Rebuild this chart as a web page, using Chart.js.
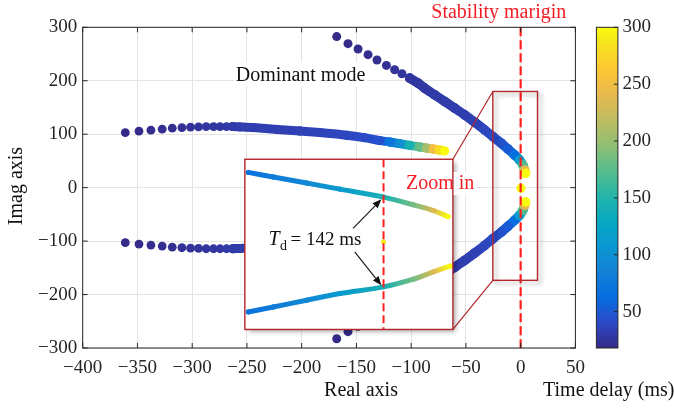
<!DOCTYPE html>
<html>
<head>
<meta charset="utf-8">
<script src="https://cdn.jsdelivr.net/npm/chart.js@4.4.1/dist/chart.umd.min.js"></script>
<style>
html,body{margin:0;padding:0;background:#ffffff;overflow:hidden;}
#wrap{position:relative;width:674px;height:409px;}
#wrap canvas{position:absolute;left:0;top:0;}
</style>
</head>
<body>
<div id="wrap">
<canvas id="mainCanvas" width="674" height="409"></canvas>
<canvas id="insetCanvas" width="674" height="409"></canvas>
</div>
<script>
// ---------------- data ----------------
const xTicks = [-400, -350, -300, -250, -200, -150, -100, -50, 0, 50];
const yTicks = [-300, -200, -100, 0, 100, 200, 300];
const cbTicks = [50, 100, 150, 200, 250, 300];
const cbMin = 18, cbMax = 300;

// Dominant mode, upper half (real, imag, time delay in ms)
const domUpRe = [-168.0,-157.7,-148.5,-139.4,-131.2,-122.6,-115.1,-108.4,-101.4,-93.8,-87.7,-78.6,-69.4,-60.3,-51.2,-42.1,-32.9,-25.4,-17.7,-11.7,-5.6,-1.0,2.0,3.6,4.5];
const domUpIm = [282.6,269.4,259.5,248.8,238.8,228.7,220.6,213.1,205.1,195.7,186.3,173.7,161.2,148.8,136.2,122.5,108.1,95.5,83.1,72.4,61.2,51.8,42.4,33.0,26.8];
// Dominant mode, lower half
const domLowRe = [-168.0,-157.7,-148.5,-139.4,-131.2,-122.6,-115.1,-108.4,-101.4,-93.8,-87.7,-78.6,-69.4,-60.3,-51.2,-42.1,-32.9,-25.4,-17.7,-11.7,-5.6,-1.0,2.0,3.6,4.5];
const domLowIm = [-282.6,-269.4,-259.5,-248.8,-238.8,-228.7,-220.6,-213.1,-205.1,-195.7,-186.3,-173.7,-161.2,-148.8,-136.2,-122.5,-108.1,-95.5,-83.1,-72.4,-61.2,-51.8,-42.4,-33.0,-26.8];
const domDelay = [18,19,20,21,22,23,24,25,26,27,28,29,30,31,32,34,37,41,45,52,65,115,170,240,300];
const domSparse = 9;

// Second mode, upper half
const secUpRe = [-361.1,-348.6,-337.7,-327.4,-318.2,-309.4,-301.5,-294.2,-287.2,-280.5,-274.5,-268.6,-263.1,-256.5,-244.3,-222.0,-201.7,-183.5,-159.1,-143.0,-128.7,-119.6,-110.5,-101.4,-92.2,-86.1,-80.1,-74.5,-69.4];
const secUpIm = [103.0,105.6,107.5,109.4,111.3,112.4,113.1,113.7,114.3,114.3,114.3,114.3,114.3,113.7,112.4,109.0,106.0,103.0,98.2,93.5,88.0,85.5,82.4,79.2,76.0,74.1,72.4,70.5,68.7];
// Second mode, lower half
const secLowRe = [-361.1,-348.6,-337.7,-327.4,-318.2,-309.4,-301.5,-294.2,-287.2,-280.5,-274.5,-268.6,-263.1,-256.5,-244.3,-222.0,-201.7,-183.5,-159.1,-143.0,-128.7,-119.6,-110.5,-101.4,-92.2,-86.1,-80.1,-74.5,-69.4];
const secLowIm = [-103.0,-105.6,-107.5,-109.4,-111.3,-112.4,-113.1,-113.7,-114.3,-114.3,-114.3,-114.3,-114.3,-113.7,-112.4,-109.0,-106.0,-103.0,-98.2,-93.5,-88.0,-85.5,-82.4,-79.2,-76.0,-74.1,-72.4,-70.5,-68.7];
const secDelay = [18,19,20,21,22,23,24,25,26,27,28,29,30,31,32,33,34,36,38,41,45,72,98,143,179,206,251,280,300];
const secSparse = 13;

// Real root on the stability margin
const realRootRe = [0.3];
const realRootIm = [-1.0];
const realRootDelay = [300];

// Zoom-in view (inset)
const zoomUpRe  = [-19.5,-15.9,-11.1,-6.3,0.0,4.3,7.2,9.3];
const zoomUpIm  = [90.8,84.7,76.8,68.9,58.4,48.3,40.8,32.9];
const zoomLowRe = [-19.5,-15.9,-11.1,-6.3,0.0,4.3,7.2,9.6];
const zoomLowIm = [-92.1,-85.5,-76.7,-67.9,-59.2,-49.1,-39.5,-32.0];
const zoomDelay = [68,80,92,110,142,185,235,300];
const zoomRootRe = [0.0], zoomRootIm = [0.0], zoomRootDelay = [290];
const tdCritical = 142;

// ---------------- styling helpers ----------------
const FAMILY = '"Liberation Serif", "Times New Roman", serif';
const INK = '#262626';
const RED = '#f21d24';
const DASHRED = '#ff1f1f';
const BOXRED = '#b3262b';
Chart.defaults.font.family = FAMILY;
Chart.defaults.font.size = 19;
Chart.defaults.color = INK;

const PARULA = [[53,42,135],[44,74,199],[4,109,224],[20,129,214],[9,152,209],[7,169,194],[37,181,169],[89,189,140],[146,191,115],[192,188,96],[233,185,78],[254,200,50],[245,228,29],[249,251,14]];
const PARULA_POS = [0,5,10,15,20,25,30,35,40,45,50,55,60,63].map(i => i / 63);
function parula(t) {
  t = Math.max(0, Math.min(1, t));
  for (let i = 1; i < PARULA_POS.length; i++) {
    if (t <= PARULA_POS[i]) {
      const f = (t - PARULA_POS[i-1]) / (PARULA_POS[i] - PARULA_POS[i-1]);
      const a = PARULA[i-1], b = PARULA[i];
      return 'rgb(' + Math.round(a[0]+(b[0]-a[0])*f) + ',' + Math.round(a[1]+(b[1]-a[1])*f) + ',' + Math.round(a[2]+(b[2]-a[2])*f) + ')';
    }
  }
  const c = PARULA[PARULA.length-1];
  return 'rgb(' + c[0] + ',' + c[1] + ',' + c[2] + ')';
}
const delayColor = d => parula((d - cbMin) / (cbMax - cbMin));
const fmt = v => (v < 0 ? '\u2212' + Math.abs(v) : String(v));

function pts(re, im, from, to) {
  const out = [];
  for (let i = from; i < to; i++) out.push({x: re[i], y: im[i]});
  return out;
}
function gradSegment(cols) {
  return ctx => {
    const c = ctx.chart.ctx;
    const p0 = ctx.p0, p1 = ctx.p1;
    if (Math.abs(p0.x - p1.x) < 0.01 && Math.abs(p0.y - p1.y) < 0.01) return cols[ctx.p1DataIndex];
    const g = c.createLinearGradient(p0.x, p0.y, p1.x, p1.y);
    g.addColorStop(0, cols[ctx.p0DataIndex]);
    g.addColorStop(1, cols[ctx.p1DataIndex]);
    return g;
  };
}
function sparseSet(re, im, delay, n, r) {
  return {data: pts(re, im, 0, n), showLine: false, pointRadius: r, pointHoverRadius: r,
          pointBackgroundColor: delay.slice(0, n).map(delayColor), pointBorderWidth: 0};
}
function denseSet(re, im, delay, from, w) {
  const cols = delay.slice(from).map(delayColor);
  return {data: pts(re, im, from, re.length), showLine: true, borderWidth: w,
          borderCapStyle: 'round', borderJoinStyle: 'round', tension: 0.3,
          borderColor: cols[0], segment: {borderColor: gradSegment(cols)},
          pointRadius: w / 2, pointHoverRadius: w / 2, pointBackgroundColor: cols, pointBorderWidth: 0};
}

// ---------------- layout (positions, not data) ----------------
const AREA = {left: 82.7, top: 27.3, right: 575.4, bottom: 348};
const ZOOM_RECT = {x0: -25.4, x1: 15.4, y0: 179.9, y1: -173.4};   // main-axis units
const INSET_BOX = {x0: -251.9, x1: -61.9, y0: 53.1, y1: -265.3};  // main-axis units
let xAxisH = 409 - AREA.bottom;

// ---------------- main chart ----------------
const mainDeco = {
  id: 'mainDeco',
  afterDatasetsDraw(chart) {
    const {ctx, chartArea: a, scales: {x, y}} = chart;
    ctx.save();
    ctx.strokeStyle = DASHRED; ctx.lineWidth = 2.2; ctx.setLineDash([9, 4]);
    const x0 = x.getPixelForValue(0);
    ctx.beginPath(); ctx.moveTo(x0, a.top); ctx.lineTo(x0, a.bottom); ctx.stroke();
    ctx.restore();
    const rx0 = x.getPixelForValue(ZOOM_RECT.x0), rx1 = x.getPixelForValue(ZOOM_RECT.x1);
    const ry0 = y.getPixelForValue(ZOOM_RECT.y0), ry1 = y.getPixelForValue(ZOOM_RECT.y1);
    ctx.save();
    ctx.strokeStyle = BOXRED; ctx.lineWidth = 1.4;
    ctx.shadowColor = 'rgba(0,0,0,0.35)'; ctx.shadowBlur = 4; ctx.shadowOffsetX = 3; ctx.shadowOffsetY = 3;
    ctx.strokeRect(rx0, ry0, rx1 - rx0, ry1 - ry0);
    ctx.restore();
    const ix1 = x.getPixelForValue(INSET_BOX.x1);
    const iy0 = y.getPixelForValue(INSET_BOX.y0), iy1 = y.getPixelForValue(INSET_BOX.y1);
    ctx.save();
    ctx.strokeStyle = BOXRED; ctx.lineWidth = 1.2;
    ctx.beginPath();
    ctx.moveTo(ix1, iy0); ctx.lineTo(rx0, ry0);
    ctx.moveTo(ix1, iy1); ctx.lineTo(rx0, ry1);
    ctx.stroke();
    ctx.restore();
  },
  afterDraw(chart) {
    const {ctx, chartArea: a, scales: {x, y, cb}} = chart;
    ctx.save();
    ctx.strokeStyle = INK; ctx.lineWidth = 1;
    ctx.strokeRect(a.left, a.top, a.right - a.left, a.bottom - a.top);
    ctx.beginPath();
    xTicks.forEach(v => {
      const px = x.getPixelForValue(v);
      ctx.moveTo(px, a.bottom); ctx.lineTo(px, a.bottom - 5);
      ctx.moveTo(px, a.top); ctx.lineTo(px, a.top + 5);
    });
    yTicks.forEach(v => {
      const py = y.getPixelForValue(v);
      ctx.moveTo(a.left, py); ctx.lineTo(a.left + 5, py);
      ctx.moveTo(a.right, py); ctx.lineTo(a.right - 5, py);
    });
    ctx.stroke();
    // colorbar (drawn against the 'cb' scale)
    const cL = a.right + 21, cW = 21.5;
    const cT = cb.getPixelForValue(cbMax), cB = cb.getPixelForValue(cbMin);
    const g = ctx.createLinearGradient(0, cB, 0, cT);
    PARULA.forEach((c, i) => g.addColorStop(PARULA_POS[i], 'rgb(' + c.join(',') + ')'));
    ctx.fillStyle = g;
    ctx.fillRect(cL, cT, cW, cB - cT);
    ctx.strokeRect(cL, cT, cW, cB - cT);
    ctx.beginPath();
    cbTicks.forEach(v => {
      const py = cb.getPixelForValue(v);
      ctx.moveTo(cL + cW, py); ctx.lineTo(cL + cW - 4, py);
    });
    ctx.stroke();
    ctx.font = '19px ' + FAMILY; ctx.fillStyle = INK;
    ctx.textAlign = 'left'; ctx.textBaseline = 'middle';
    cbTicks.forEach(v => ctx.fillText(fmt(v), cL + cW + 4.5, cb.getPixelForValue(v)));
    // texts
    ctx.font = '20px ' + FAMILY;
    ctx.textBaseline = 'alphabetic';
    ctx.fillStyle = RED; ctx.textAlign = 'center';
    ctx.fillText('Stability marigin', x.getPixelForValue(-20), 18);
    const dm = 'Dominant mode';
    const dx = x.getPixelForValue(-260.1), dy = y.getPixelForValue(200);
    const dw = ctx.measureText(dm).width;
    ctx.fillStyle = '#ffffff';
    ctx.fillRect(dx - 2, dy - 19, dw + 4, 25);
    ctx.fillStyle = '#111111'; ctx.textAlign = 'left';
    ctx.fillText(dm, dx, dy);
    ctx.textAlign = 'center';
    ctx.fillText('Real axis', 361, 396);
    ctx.textAlign = 'left';
    ctx.fillText('Time delay (ms)', 543, 396);
    ctx.save();
    ctx.translate(21.7, 186); ctx.rotate(-Math.PI / 2);
    ctx.textAlign = 'center';
    ctx.fillText('Imag axis', 0, 0);
    ctx.restore();
    ctx.restore();
  }
};

const tickFont = () => ({family: FAMILY, size: 19});
const mainOptions = {
  responsive: false, animation: false, devicePixelRatio: 1,
  layout: {padding: {left: 0, right: 0, top: AREA.top, bottom: 0}},
  plugins: {legend: {display: false}, tooltip: {enabled: false}, title: {display: false}},
  scales: {
    x: {type: 'linear', position: 'bottom', min: -400, max: 50,
        afterBuildTicks: s => { s.ticks = xTicks.map(v => ({value: v})); },
        afterFit: s => { s.height = xAxisH; },
        grid: {color: '#e4e4e4', lineWidth: 1, drawTicks: false},
        border: {display: false},
        ticks: {font: tickFont(), color: INK, padding: 9, maxRotation: 0, autoSkip: false, callback: fmt}},
    y: {type: 'linear', position: 'left', min: -300, max: 300,
        afterBuildTicks: s => { s.ticks = yTicks.map(v => ({value: v})); },
        afterFit: s => { s.width = AREA.left; },
        grid: {color: '#e4e4e4', lineWidth: 1, drawTicks: false},
        border: {display: false},
        ticks: {font: tickFont(), color: INK, padding: 5.4, autoSkip: false, callback: fmt}},
    cb: {type: 'linear', axis: 'y', position: 'right', min: cbMin, max: cbMax,
        afterBuildTicks: s => { s.ticks = cbTicks.map(v => ({value: v})); },
        afterFit: s => { s.width = 674 - AREA.right; },
        grid: {display: false, drawTicks: false},
        border: {display: false},
        ticks: {display: false, padding: 0}}
  }
};
const mainChart = new Chart(document.getElementById('mainCanvas'), {
  type: 'scatter',
  data: {
    datasets: [
      sparseSet(realRootRe, realRootIm, realRootDelay, 1, 4.6),
      denseSet(domUpRe, domUpIm, domDelay, domSparse - 1, 9.5),
      sparseSet(domUpRe, domUpIm, domDelay, domSparse, 4.5),
      denseSet(domLowRe, domLowIm, domDelay, domSparse - 1, 9.5),
      sparseSet(domLowRe, domLowIm, domDelay, domSparse, 4.5),
      denseSet(secUpRe, secUpIm, secDelay, secSparse - 1, 9),
      sparseSet(secUpRe, secUpIm, secDelay, secSparse, 4.4),
      denseSet(secLowRe, secLowIm, secDelay, secSparse - 1, 9),
      sparseSet(secLowRe, secLowIm, secDelay, secSparse, 4.4)
    ]
  },
  options: mainOptions,
  plugins: [mainDeco]
});

// pin the plot area to the reference position (small corrections only)
for (let k = 0; k < 6; k++) {
  const a = mainChart.chartArea;
  const dt = AREA.top - a.top, db = AREA.bottom - a.bottom;
  if ((Math.abs(dt) < 0.05 && Math.abs(db) < 0.05) || Math.abs(dt) > 6 || Math.abs(db) > 6) break;
  mainChart.config.options.layout.padding.top += dt;
  xAxisH -= db;
  mainChart.update('none');
}

// ---------------- inset (zoom-in view) ----------------
const mx = mainChart.scales.x, my = mainChart.scales.y;
const IL = mx.getPixelForValue(INSET_BOX.x0), IR = mx.getPixelForValue(INSET_BOX.x1);
const IT = my.getPixelForValue(INSET_BOX.y0), IB = my.getPixelForValue(INSET_BOX.y1);

function arrow(ctx, x0, y0, x1, y1) {
  const ang = Math.atan2(y1 - y0, x1 - x0), L = 9, H = 3.6;
  const bx = x1 - L * Math.cos(ang), by = y1 - L * Math.sin(ang);
  ctx.beginPath(); ctx.moveTo(x0, y0); ctx.lineTo(bx, by); ctx.stroke();
  ctx.beginPath();
  ctx.moveTo(x1, y1);
  ctx.lineTo(bx + H * Math.sin(ang), by - H * Math.cos(ang));
  ctx.lineTo(bx - H * Math.sin(ang), by + H * Math.cos(ang));
  ctx.closePath(); ctx.fill();
}

const insetDeco = {
  id: 'insetDeco',
  beforeDraw(chart) {
    const {ctx, chartArea: a} = chart;
    ctx.save();
    ctx.shadowColor = 'rgba(0,0,0,0.35)'; ctx.shadowBlur = 5; ctx.shadowOffsetX = 3; ctx.shadowOffsetY = 3;
    ctx.fillStyle = '#ffffff';
    ctx.fillRect(a.left, a.top, a.right - a.left, a.bottom - a.top);
    ctx.restore();
  },
  afterDatasetsDraw(chart) {
    const {ctx, chartArea: a, scales: {x, y}} = chart;
    ctx.save();
    ctx.strokeStyle = DASHRED; ctx.lineWidth = 2; ctx.setLineDash([8, 4]);
    const x0 = x.getPixelForValue(0);
    ctx.beginPath(); ctx.moveTo(x0, a.top); ctx.lineTo(x0, a.bottom); ctx.stroke();
    ctx.setLineDash([]);
    ctx.strokeStyle = '#111111'; ctx.fillStyle = '#111111'; ctx.lineWidth = 1.1;
    arrow(ctx, x.getPixelForValue(-4.4), y.getPixelForValue(17.3), x.getPixelForValue(-0.31), y.getPixelForValue(55.5));
    arrow(ctx, x.getPixelForValue(-4.16), y.getPixelForValue(-13.4), x.getPixelForValue(-0.31), y.getPixelForValue(-57.2));
    const lx = x.getPixelForValue(-16.6), ly = y.getPixelForValue(-3.7);
    ctx.font = 'italic 20px ' + FAMILY; ctx.textAlign = 'left'; ctx.textBaseline = 'alphabetic';
    ctx.fillText('T', lx, ly);
    const wT = ctx.measureText('T').width;
    ctx.font = '14px ' + FAMILY;
    ctx.fillText('d', lx + wT + 0.5, ly + 5);
    const wd = ctx.measureText('d').width;
    ctx.font = '19px ' + FAMILY;
    ctx.fillText('= ' + tdCritical + ' ms', lx + wT + wd + 4, ly);
    ctx.restore();
  },
  afterDraw(chart) {
    const {ctx, chartArea: a} = chart;
    ctx.save();
    ctx.strokeStyle = BOXRED; ctx.lineWidth = 1.4;
    ctx.strokeRect(a.left, a.top, a.right - a.left, a.bottom - a.top);
    ctx.font = '20px ' + FAMILY; ctx.textBaseline = 'alphabetic'; ctx.textAlign = 'left';
    const t = 'Zoom in', tx = 406, ty = 189;
    const tw = ctx.measureText(t).width;
    ctx.fillStyle = '#ffffff';
    ctx.fillRect(tx - 1, ty - 17, tw + 2, 23);
    ctx.fillStyle = RED;
    ctx.fillText(t, tx, ty);
    ctx.beginPath(); ctx.moveTo(a.right, ty - 17); ctx.lineTo(a.right, ty + 6); ctx.stroke();
    ctx.restore();
  }
};

new Chart(document.getElementById('insetCanvas'), {
  type: 'scatter',
  data: {
    datasets: [
      sparseSet(zoomRootRe, zoomRootIm, zoomRootDelay, 1, 2.5),
      denseSet(zoomUpRe, zoomUpIm, zoomDelay, 0, 5),
      denseSet(zoomLowRe, zoomLowIm, zoomDelay, 0, 5)
    ]
  },
  options: {
    responsive: false, animation: false, devicePixelRatio: 1,
    layout: {padding: {left: IL, top: IT, right: 674 - IR, bottom: 409 - IB}},
    plugins: {legend: {display: false}, tooltip: {enabled: false}},
    scales: {
      x: {type: 'linear', display: false, min: -20, max: 10},
      y: {type: 'linear', display: false, min: -115, max: 108}
    }
  },
  plugins: [insetDeco]
});
</script>
</body>
</html>
